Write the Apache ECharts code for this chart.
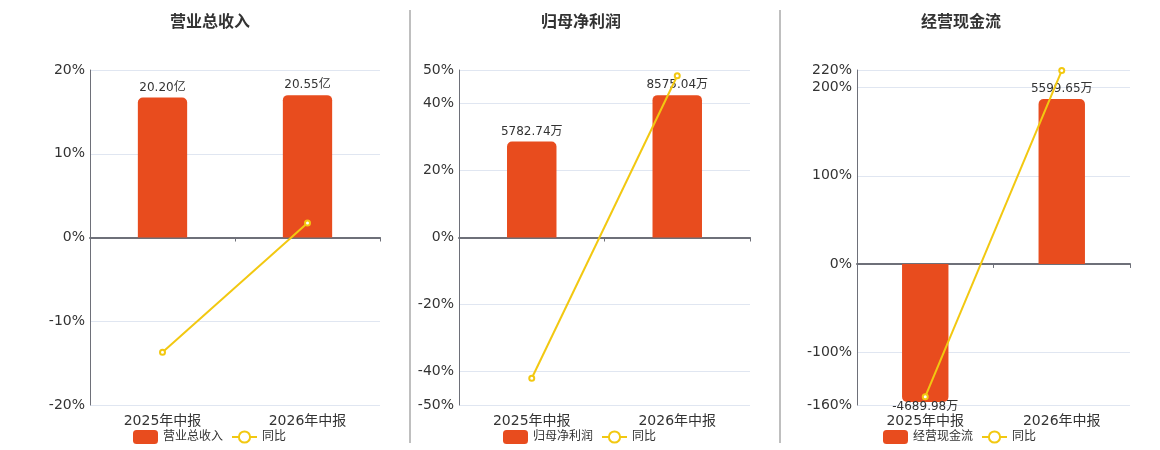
<!DOCTYPE html>
<html>
<head>
<meta charset="utf-8">
<title>中报财务指标</title>
<script src="https://cdn.jsdelivr.net/npm/echarts@6/dist/echarts.min.js"></script>
<style>
html,body{margin:0;padding:0;background:#fff;}
#main{width:1160px;height:450px;}
</style>
</head>
<body>
<div id="main"></div>
<script>
var fontFamily = '"DejaVu Sans","Noto Sans CJK SC",sans-serif';

// 报告期
var periods = ['2025年中报', '2026年中报'];

// 营业总收入(亿) / 同比(%)
var revenue = [20.20, 20.55];
var revenueYoy = [-13.7, 1.73];

// 归母净利润(万) / 同比(%)
var netProfit = [5782.74, 8575.04];
var netProfitYoy = [-42.0, 48.29];

// 经营现金流(万) / 同比(%)
var cashFlow = [-4689.98, 5599.65];
var cashFlowYoy = [-150.5, 219.4];

// 百分比轴范围
var pctMin = [-20, -50, -160];
var pctMax = [20, 50, 220];

var panels = [
    {title: '营业总收入', name: '营业总收入', unit: '亿', bars: revenue, yoy: revenueYoy},
    {title: '归母净利润', name: '归母净利润', unit: '万', bars: netProfit, yoy: netProfitYoy},
    {title: '经营现金流', name: '经营现金流', unit: '万', bars: cashFlow, yoy: cashFlowYoy}
];

// 每块的位置
var gridBox = [
    {left: 90, right: 780},
    {left: 459, right: 410},
    {left: 857, right: 30}
];
var titleX = [210, 581, 961];
var legendX = [128, 498, 878];

var barColor = '#E84C1E';
var lineColor = '#F2C811';

var option = {
    animation: false,
    textStyle: {fontFamily: fontFamily},
    grid: [],
    xAxis: [],
    yAxis: [],
    legend: [],
    series: [],
    graphic: [
        {type: 'line', shape: {x1: 410, y1: 10, x2: 410, y2: 443}, style: {stroke: '#aaa', lineWidth: 1.5}},
        {type: 'line', shape: {x1: 780, y1: 10, x2: 780, y2: 443}, style: {stroke: '#aaa', lineWidth: 1.5}}
    ]
};

panels.forEach(function (p, i) {
    option.grid.push({left: gridBox[i].left, right: gridBox[i].right, top: 70, bottom: 45});

    option.graphic.push({
        type: 'text', x: titleX[i], y: 23,
        style: {text: p.title, font: 'bold 16px ' + fontFamily, fill: '#333',
            textAlign: 'center', textVerticalAlign: 'middle'}
    });

    // 零线 + 刻度
    option.xAxis.push({
        type: 'category', gridIndex: i, data: periods,
        axisLine: {onZero: true, onZeroAxisIndex: i * 2, lineStyle: {color: '#6E7079', width: 2}},
        axisTick: {show: true, length: 4, lineStyle: {color: '#6E7079'}},
        axisLabel: {show: false},
        splitLine: {show: false}
    });
    // 底部标签
    option.xAxis.push({
        type: 'category', gridIndex: i, data: periods, position: 'bottom',
        axisLine: {show: false, onZero: false},
        axisTick: {show: false},
        axisLabel: {fontSize: 14, color: '#333', margin: 9},
        splitLine: {show: false}
    });

    option.yAxis.push({
        type: 'value', gridIndex: i, min: pctMin[i], max: pctMax[i],
        axisLine: {show: true, lineStyle: {color: '#6E7079'}},
        axisTick: {show: false},
        axisLabel: {formatter: '{value}%', fontSize: 14, color: '#333', margin: 5, padding: [3, 0, 0, 0]},
        splitLine: {lineStyle: {color: '#E0E6F1'}}
    });
    var hi = Math.max.apply(null, p.bars.map(Math.abs)) / 0.85;
    option.yAxis.push({
        type: 'value', gridIndex: i, show: false,
        min: hi * pctMin[i] / pctMax[i], max: hi,
        splitLine: {show: false}
    });

    option.legend.push({
        left: legendX[i], top: 425,
        itemWidth: 25, itemHeight: 14,
        textStyle: {fontSize: 12, color: '#333'},
        data: [p.name, '同比']
    });

    option.series.push({
        name: p.name, type: 'bar',
        xAxisIndex: i * 2, yAxisIndex: i * 2 + 1,
        barWidth: '34%',
        itemStyle: {color: barColor},
        data: p.bars.map(function (v) {
            return {
                value: v,
                itemStyle: {borderRadius: v >= 0 ? [5, 5, 0, 0] : [0, 0, 5, 5]},
                label: {position: v >= 0 ? 'top' : 'bottom', distance: v >= 0 ? 4 : -1}
            };
        }),
        label: {
            show: true, fontSize: 12, color: '#333',
            formatter: function (params) {
                return params.value.toFixed(2) + p.unit;
            }
        }
    });
    option.series.push({
        name: '同比', type: 'line',
        xAxisIndex: i * 2, yAxisIndex: i * 2,
        symbol: 'emptyCircle', symbolSize: 5,
        itemStyle: {color: lineColor},
        lineStyle: {color: lineColor, width: 2},
        z: 5,
        data: p.yoy
    });
});

var chart = echarts.init(document.getElementById('main'));
chart.setOption(option);
</script>
</body>
</html>
